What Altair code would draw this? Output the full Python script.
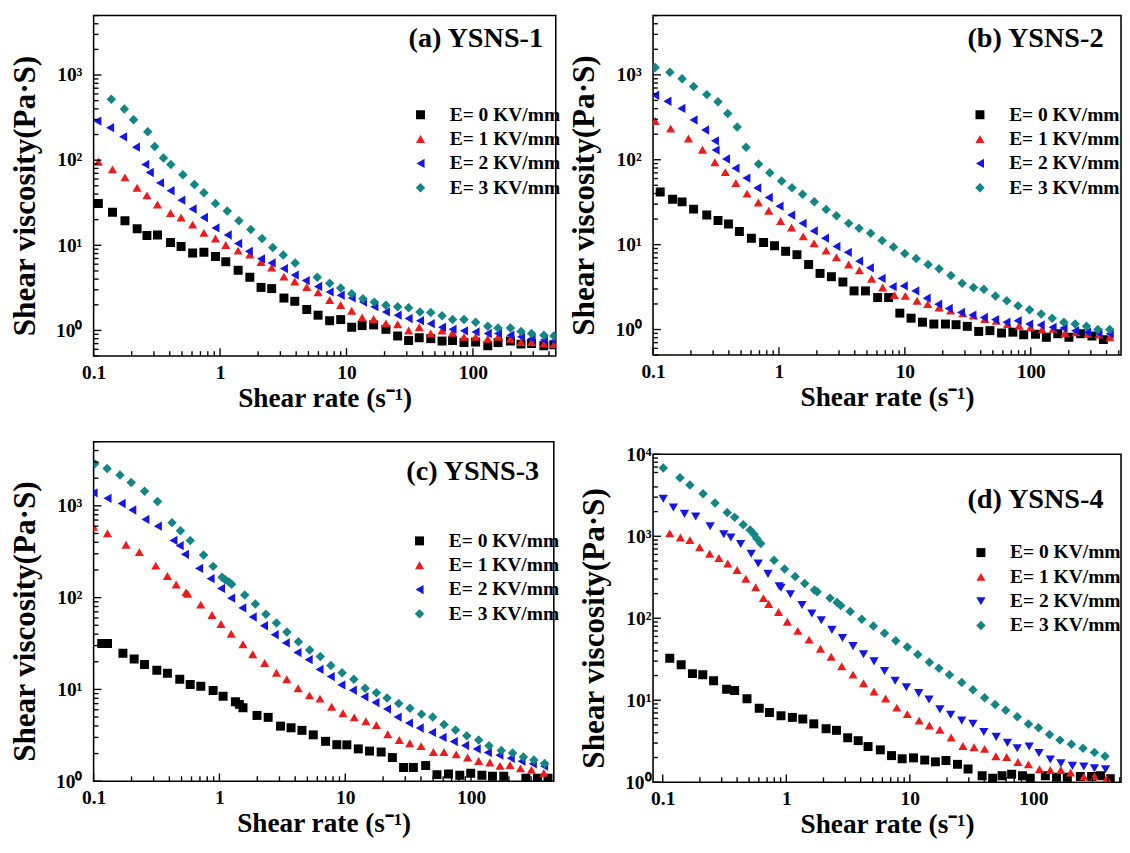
import altair as alt
import pandas as pd

FONT = "Liberation Serif"
SERIES = ["E= 0 KV/mm", "E= 1 KV/mm", "E= 2 KV/mm", "E= 3 KV/mm"]
COLORS = ["#000000", "#ec1c1c", "#1515e6", "#128585"]
SIZES = [85, 95, 95, 90]

# ---------------- panel (a) YSNS-1 ----------------
A_X0 = [0.109, 0.141, 0.177, 0.221, 0.264, 0.32, 0.406, 0.492, 0.607, 0.745, 0.92, 1.11, 1.39, 1.72, 2.11,
        2.56, 3.2, 3.9, 4.85, 5.96, 7.36, 9.0, 11.0, 13.3, 16.4, 20.5, 25.4, 31, 37.6, 46.4, 57, 69, 85, 105,
        131, 158, 198, 240, 291, 364, 437]
A_Y0 = [31.0, 24.4, 19.4, 15.6, 13.0, 13.2, 10.8, 9.7, 8.1, 8.3, 7.4, 6.4, 5.1, 4.2, 3.2, 3.1, 2.4, 2.2, 1.76,
        1.51, 1.30, 1.34, 1.09, 1.14, 1.16, 1.03, 0.86, 0.76, 0.82, 0.80, 0.75, 0.76, 0.72, 0.73, 0.66, 0.72,
        0.75, 0.69, 0.70, 0.66, 0.68]
A_X1 = A_X0
A_Y1 = [95.7, 78, 62.7, 47.3, 38.6, 30.2, 24.0, 21.2, 17.5, 14.0, 12.0, 10.1, 8.65, 7.8, 6.35, 5.47, 4.28, 3.75,
        3.23, 2.80, 2.27, 1.99, 1.70, 1.42, 1.36, 1.21, 1.18, 1.0, 1.09, 0.92, 1.0, 0.94, 0.84, 0.84, 0.80,
        0.84, 0.80, 0.73, 0.73, 0.70, 0.69]
A_X2 = [0.107, 0.135, 0.171, 0.216, 0.256, 0.278, 0.335, 0.406, 0.494, 0.607, 0.745, 0.92, 1.15, 1.39, 1.69,
        2.11, 2.56, 3.2, 3.9, 4.76, 5.96, 7.36, 9.0, 11.0, 13.5, 16.6, 20.5, 25.4, 31, 38.1, 46.4, 57, 69, 85,
        105, 131, 158, 198, 240, 291, 364, 437]
A_Y2 = [288, 241, 188, 142, 89, 71.6, 54, 43.7, 33.9, 26.7, 21.2, 16.0, 13.2, 10.5, 8.49, 6.94, 6.19, 5.33,
        4.47, 3.85, 3.28, 2.83, 2.59, 2.41, 2.15, 1.9, 1.65, 1.51, 1.38, 1.30, 1.2, 1.09, 1.03, 0.99, 0.96,
        0.92, 0.92, 0.88, 0.84, 0.80, 0.77, 0.75]
A_X3 = [0.138, 0.175, 0.207, 0.268, 0.304, 0.357, 0.408, 0.508, 0.627, 0.745, 0.92, 1.14, 1.41, 1.75, 2.15,
        2.61, 3.16, 3.93, 5.87, 7.36, 9.0, 11.0, 13.5, 16.6, 20.5, 25.4, 31, 38.1, 46.4, 57, 69, 85, 105, 131,
        158, 198, 240, 291, 364, 437]
A_Y3 = [519, 398, 298, 215, 145, 106, 89, 67.3, 51.7, 41.5, 31, 25.3, 19.4, 15.3, 12.0, 9.44, 7.71, 6.19, 4.20,
        3.59, 3.14, 2.70, 2.35, 2.15, 1.97, 1.90, 1.85, 1.65, 1.62, 1.49, 1.34, 1.34, 1.25, 1.12, 1.07, 1.07,
        0.97, 0.92, 0.88, 0.86]

# ---------------- panel (b) YSNS-2 ----------------
B_X0 = [0.114, 0.143, 0.170, 0.210, 0.267, 0.328, 0.397, 0.485, 0.604, 0.755, 0.922, 1.13, 1.39, 1.72, 2.12,
        2.61, 3.22, 3.95, 4.86, 6.08, 7.43, 9.12, 11.2, 13.8, 17.0, 21.0, 25.5, 31.3, 38.6, 47.4, 58.6, 72.1,
        87.9, 109, 133, 164, 201, 249, 306, 377]
B_Y0 = [41.8, 34.3, 31.9, 26.2, 22.3, 19.2, 17.5, 14.3, 11.9, 10.6, 9.71, 8.34, 7.62, 5.83, 4.58, 4.19, 3.63,
        2.85, 2.85, 2.38, 2.38, 1.56, 1.36, 1.22, 1.16, 1.16, 1.14, 1.09, 0.95, 0.97, 0.91, 0.93, 0.87, 0.88,
        0.81, 0.89, 0.81, 0.89, 0.84, 0.76]
B_X1 = [0.104, 0.138, 0.191, 0.247, 0.310, 0.375, 0.455, 0.558, 0.686, 0.830, 1.03, 1.26, 1.56, 1.90, 2.37,
        2.86, 3.58, 4.35, 5.45, 6.67, 8.26, 10.1, 12.5, 15.2, 18.7, 23.1, 28.9, 35.1, 43.1, 53.3, 65.4, 80.8,
        99.5, 123, 151, 187, 229, 284, 348, 425]
B_Y1 = [286, 233, 178, 131, 93.3, 71.4, 53.1, 39.9, 31.3, 25.1, 19.0, 15.9, 12.5, 10.4, 8.49, 7.10, 5.83, 4.97,
        3.97, 3.12, 2.54, 2.49, 2.18, 1.99, 1.82, 1.67, 1.55, 1.46, 1.33, 1.27, 1.16, 1.11, 1.06, 1.0, 1.02,
        0.91, 0.93, 0.89, 0.87, 0.81]
B_X2 = [0.104, 0.130, 0.168, 0.210, 0.259, 0.310, 0.314, 0.380, 0.452, 0.551, 0.673, 0.830, 1.01, 1.25, 1.54,
        1.89, 2.32, 2.86, 3.52, 4.33, 5.27, 6.53, 8.00, 9.8, 12.1, 14.9, 18.4, 22.3, 27.9, 34.4, 42.4, 52.1,
        64.1, 78.7, 97.2, 120, 149, 182, 225, 280, 345, 424]
B_Y2 = [575, 489, 402, 294, 224, 167, 130, 102, 79.4, 60.8, 46.5, 35.9, 28.4, 22.3, 17.8, 14.5, 11.9, 9.53,
        8.11, 6.38, 5.33, 4.0, 3.2, 3.26, 2.85, 2.34, 1.99, 1.77, 1.59, 1.48, 1.39, 1.31, 1.22, 1.27, 1.16,
        1.13, 1.06, 1.04, 0.97, 0.93, 0.91, 0.89]
B_X3 = [0.104, 0.136, 0.170, 0.210, 0.267, 0.328, 0.392, 0.466, 0.548, 0.689, 0.846, 1.05, 1.27, 1.54, 1.91,
        2.37, 2.86, 3.58, 4.33, 5.35, 6.6, 8.12, 9.98, 12.3, 15.3, 18.7, 23.2, 28.5, 35.1, 42.4, 52.4, 64.5,
        79.2, 97.8, 121, 148, 183, 225, 277, 341, 424]
B_Y3 = [1219, 1075, 899, 731, 585, 481, 351, 243, 140, 89.3, 70.2, 56.1, 46.9, 39.2, 31.9, 26.0, 21.9, 17.8,
        15.6, 13.6, 11.2, 9.37, 7.84, 6.85, 5.83, 5.19, 4.34, 3.50, 3.12, 2.98, 2.49, 2.18, 1.90, 1.71, 1.52,
        1.36, 1.22, 1.16, 1.09, 1.0, 1.0]

# ---------------- panel (c) YSNS-3 ----------------
C_X0 = [0.116, 0.129, 0.171, 0.210, 0.254, 0.318, 0.386, 0.484, 0.586, 0.711, 0.891, 1.07, 1.34, 1.44, 1.54,
        1.99, 2.44, 3.06, 3.71, 4.53, 5.57, 6.98, 8.57, 10.3, 12.7, 15.6, 19.3, 23.7, 29.1, 34.8, 43.6, 53.6,
        66.2, 81.4, 99.4, 122, 148, 182, 273, 337, 409]
C_Y0 = [31.6, 31.6, 24.8, 21.4, 18.7, 16.2, 15.0, 12.9, 11.3, 10.8, 9.73, 8.41, 7.32, 6.87, 6.33, 5.21, 4.96,
        3.98, 3.82, 3.58, 3.20, 2.72, 2.50, 2.49, 2.25, 2.13, 2.08, 1.81, 1.41, 1.41, 1.48, 1.18, 1.20, 1.16,
        1.22, 1.16, 1.13, 1.13, 1.08, 1.08, 1.08]
C_X1 = [0.1, 0.129, 0.181, 0.231, 0.312, 0.386, 0.453, 0.542, 0.560, 0.711, 0.874, 1.03, 1.24, 1.54, 1.84,
        2.29, 2.84, 3.43, 4.22, 5.20, 6.3, 7.8, 9.6, 11.8, 14.6, 17.7, 21.8, 26.9, 32.6, 40.1, 50.2, 60.9,
        76.3, 94, 115, 141, 170, 204, 247, 302, 379]
C_Y1 = [590, 501, 377, 313, 223, 172, 139, 114, 110, 83.9, 64.7, 51.5, 40.4, 31.1, 24.2, 19.4, 15.2, 12.9,
        10.3, 8.61, 7.94, 6.48, 5.51, 4.96, 4.50, 4.08, 3.25, 2.81, 2.59, 2.41, 2.08, 2.08, 1.96, 1.81, 1.66,
        1.60, 1.47, 1.50, 1.38, 1.33, 1.23]
C_X2 = [0.1, 0.129, 0.167, 0.203, 0.258, 0.324, 0.431, 0.483, 0.532, 0.689, 0.851, 1.03, 1.24, 1.52, 1.84,
        2.26, 2.75, 3.37, 4.17, 5.12, 6.25, 7.67, 9.31, 11.5, 14.2, 17.4, 21.5, 26.1, 32.1, 39.1, 49.0, 59.4,
        72.9, 89.7, 111, 136, 168, 207, 252, 310, 381]
C_Y2 = [1386, 1208, 1060, 900, 711, 600, 420, 368, 296, 208, 161, 126, 98.6, 77.3, 61.5, 49.4, 39.4, 32.1,
        25.2, 21.1, 16.5, 13.8, 11.2, 9.8, 8.3, 7.2, 6.1, 5.0, 4.3, 3.8, 3.4, 3.0, 2.7, 2.45, 2.25, 2.05, 1.92,
        1.78, 1.65, 1.55, 1.46]
C_X3 = [0.102, 0.128, 0.162, 0.199, 0.254, 0.322, 0.420, 0.490, 0.586, 0.748, 0.891, 1.05, 1.11, 1.19, 1.25,
        1.59, 1.93, 2.34, 2.84, 3.44, 4.25, 5.22, 6.34, 7.68, 9.44, 11.7, 14.4, 17.7, 21.5, 26.6, 32.7, 40.4,
        49.6, 61.0, 75.3, 92.5, 115, 139, 174, 214, 261, 316, 384]
C_Y3 = [2880, 2550, 2170, 1797, 1442, 1112, 656, 535, 420, 291, 219, 167, 157, 148, 140, 107, 85.3, 65.8,
        52.8, 42.1, 33.0, 26.9, 22.8, 18.2, 15.2, 12.9, 10.3, 9.2, 8.07, 7.03, 6.22, 5.38, 5.0, 4.15, 3.61,
        3.12, 2.81, 2.44, 2.16, 2.03, 1.84, 1.70, 1.56]

# ---------------- panel (d) YSNS-4 ----------------
D_X0 = [0.114, 0.141, 0.174, 0.211, 0.258, 0.329, 0.382, 0.481, 0.604, 0.731, 0.906, 1.12, 1.36, 1.67, 2.10,
        2.55, 3.14, 3.82, 4.59, 5.77, 7.11, 8.67, 10.7, 13.2, 16.1, 19.6, 24.3, 29.6, 38.5, 46.8, 55.8, 66.7,
        81.6, 94.3, 125, 154, 188, 240, 296, 349, 419]
D_Y0 = [32.6, 27.0, 21.1, 20.5, 17.3, 13.6, 13.1, 10.4, 7.96, 7.08, 6.46, 6.17, 5.90, 5.15, 4.49, 4.29, 3.48,
        3.21, 2.72, 2.48, 2.11, 1.93, 1.98, 1.86, 1.77, 1.84, 1.65, 1.45, 1.2, 1.12, 1.2, 1.25, 1.2, 1.12, 1.2,
        1.15, 1.15, 1.17, 1.17, 1.2, 1.1]
D_X1 = [0.114, 0.139, 0.166, 0.199, 0.240, 0.285, 0.336, 0.400, 0.471, 0.566, 0.654, 0.721, 0.866, 1.02, 1.24,
        1.53, 1.89, 2.31, 2.81, 3.47, 4.22, 5.13, 6.37, 7.85, 9.55, 11.9, 14.4, 17.5, 21.6, 26.9, 33.1, 40.3,
        49.7, 60.8, 75, 91.2, 112, 137, 167, 200, 256, 312, 393]
D_Y1 = [1086, 964, 897, 734, 612, 544, 466, 388, 304, 239, 176, 149, 119, 90.5, 70.2, 54.8, 42.5, 33.9, 26.0,
        20.5, 16.1, 12.8, 10.5, 8.12, 6.76, 5.64, 4.92, 4.37, 3.51, 2.77, 2.67, 2.55, 2.07, 2.03, 1.76, 1.65,
        1.44, 1.41, 1.41, 1.31, 1.17, 1.18, 1.11]
D_X2 = [0.101, 0.122, 0.150, 0.185, 0.242, 0.312, 0.356, 0.427, 0.520, 0.593, 0.711, 0.877, 0.906, 1.08, 1.34,
        1.61, 1.92, 2.34, 2.85, 3.47, 4.22, 5.13, 6.24, 7.6, 9.37, 11.8, 14.3, 17.5, 21.4, 26.3, 32.4, 39.7,
        50, 61.7, 74, 92.5, 111, 137, 167, 207, 256, 312, 384]
D_Y2 = [2872, 2248, 1875, 1743, 1327, 1057, 964, 804, 612, 466, 348, 246, 235, 196, 145, 114, 94.6, 72.1, 57.4,
        45.7, 36.4, 29.8, 22.7, 17.3, 14.4, 12.2, 10.2, 7.75, 6.64, 5.64, 5.15, 4.10, 3.57, 3.03, 2.60, 2.72,
        2.27, 1.89, 1.70, 1.58, 1.55, 1.48, 1.44]
D_X3 = [0.101, 0.138, 0.166, 0.212, 0.265, 0.333, 0.382, 0.448, 0.510, 0.548, 0.577, 0.621, 0.796, 0.969, 1.18,
        1.41, 1.69, 1.78, 2.26, 2.58, 2.76, 3.29, 4.08, 5.07, 6.24, 7.69, 9.55, 11.6, 14.4, 17.2, 20.9, 26.3,
        32.4, 40.3, 49, 59.7, 74, 91.2, 110, 135, 164, 203, 252, 312, 380]
D_Y3 = [6820, 5190, 4215, 3297, 2555, 1945, 1711, 1387, 1189, 1057, 938, 818, 510, 399, 324, 265, 221, 211,
        176, 156, 143, 121, 97.3, 80.4, 65.8, 53.3, 44.5, 36.1, 29.0, 24.6, 20.5, 16.5, 13.4, 10.7, 8.89,
        7.54, 6.28, 5.14, 4.61, 3.81, 3.26, 2.90, 2.60, 2.31, 2.07]

# ---------------- tick values ----------------
X_MAJOR = [0.1, 1, 10, 100]
X_MINOR = [0.2, 0.3, 0.4, 0.5, 0.6, 0.7, 0.8, 0.9, 2, 3, 4, 5, 6, 7, 8, 9,
           20, 30, 40, 50, 60, 70, 80, 90, 200, 300, 400, 500]
Y_MAJOR_4 = [1, 10, 100, 1000]
Y_MAJOR_5 = [1, 10, 100, 1000, 10000]
Y_MINOR_AB = [0.5, 0.6, 0.7, 0.8, 0.9, 2, 3, 4, 5, 6, 7, 8, 9, 20, 30, 40, 50, 60, 70, 80, 90,
              200, 300, 400, 500, 600, 700, 800, 900, 2000, 3000, 4000, 5000]
Y_MINOR_C = [2, 3, 4, 5, 6, 7, 8, 9, 20, 30, 40, 50, 60, 70, 80, 90,
             200, 300, 400, 500, 600, 700, 800, 900, 2000, 3000, 4000, 5000]
Y_MINOR_D = Y_MINOR_C[:-1] + [6000, 7000, 8000, 9000]

SUP = "['\u2070','\u00b9','\u00b2','\u00b3','\u2074']"
Y_LABEL_EXPR = "'10' + " + SUP + "[round(log(datum.value)/LN10)]"


def panel(xs, ys, shapes, xdom, ydom, ymaj, ymin, w, h, title, tdx, tdy, lx, ly, ylp):
    rows = []
    for s, xl, yl in zip(SERIES, xs, ys):
        rows += [{"rate": a, "visc": b, "s": s} for a, b in zip(xl, yl)]
    df = pd.DataFrame(rows)
    xsc = alt.Scale(type="log", domain=xdom, nice=False)
    ysc = alt.Scale(type="log", domain=ydom, nice=False)
    xax = alt.Axis(values=X_MAJOR, format="~g", title="Shear rate (s\u207b\u00b9)",
                   labelPadding=7, titlePadding=3, labelFlush=False)
    yax = alt.Axis(values=ymaj, labelExpr=Y_LABEL_EXPR, title="Shear viscosity(Pa\u00b7S)",
                   labelPadding=ylp, titlePadding=15, titleY=h / 2 + 10, labelFlush=False,
                   titleFontSize=32)
    leg = alt.Legend(title=None, orient="none", legendX=lx, legendY=ly, labelFont=FONT, labelFontSize=20,
                     labelFontWeight="bold", labelColor="black", symbolSize=60, symbolStrokeWidth=0,
                     symbolOpacity=1, rowPadding=5, labelOffset=20, padding=0)
    pts = alt.Chart(df).mark_point(filled=True, opacity=1, clip=True).encode(
        x=alt.X("rate:Q", scale=xsc, axis=xax),
        y=alt.Y("visc:Q", scale=ysc, axis=yax),
        color=alt.Color("s:N", scale=alt.Scale(domain=SERIES, range=COLORS), legend=leg),
        shape=alt.Shape("s:N", scale=alt.Scale(domain=SERIES, range=shapes), legend=leg),
        size=alt.Size("s:N", scale=alt.Scale(domain=SERIES, range=SIZES), legend=None),
    )

    xmax = xdom[1]

    def xt(vals, L):
        vals = [v for v in vals if v < xmax]
        return alt.Chart(pd.DataFrame({"rate": vals})).mark_rule(color="black", strokeWidth=1.4).encode(
            x=alt.X("rate:Q", scale=xsc, axis=xax), y=alt.value(h), y2=alt.value(h - L))

    def yt(vals, L):
        return alt.Chart(pd.DataFrame({"visc": vals})).mark_rule(color="black", strokeWidth=1.4).encode(
            y=alt.Y("visc:Q", scale=ysc, axis=yax), x=alt.value(0), x2=alt.value(L))

    lab = alt.Chart(pd.DataFrame({"t": [title]})).mark_text(
        align="right", baseline="alphabetic", font=FONT, fontSize=29, fontWeight="bold", color="black"
    ).encode(text="t:N", x=alt.value(w + tdx), y=alt.value(tdy))

    return alt.layer(pts, xt(X_MAJOR, 8), xt(X_MINOR, 5), yt(ymaj, 8), yt(ymin, 5), lab).properties(
        width=w, height=h)


SH_L = ["square", "triangle-up", "triangle-left", "diamond"]
SH_D = ["square", "triangle-up", "triangle-down", "diamond"]

pa = panel([A_X0, A_X1, A_X2, A_X3], [A_Y0, A_Y1, A_Y2, A_Y3], SH_L, [0.1, 452], [0.5, 5000], Y_MAJOR_4,
           Y_MINOR_AB, 475, 350, "(a) YSNS-1", -13, 32, 326, 92, 12)
pb = panel([B_X0, B_X1, B_X2, B_X3], [B_Y0, B_Y1, B_Y2, B_Y3], SH_L, [0.1, 521], [0.5, 5000], Y_MAJOR_4,
           Y_MINOR_AB, 481, 349, "(b) YSNS-2", -18, 32, 326, 92, 12)
pc = panel([C_X0, C_X1, C_X2, C_X3], [C_Y0, C_Y1, C_Y2, C_Y3], SH_L, [0.1, 455], [1, 5000], Y_MAJOR_4,
           Y_MINOR_C, 473, 349, "(c) YSNS-3", -15, 39, 325, 92, 12)
pd_ = panel([D_X0, D_X1, D_X2, D_X3], [D_Y0, D_Y1, D_Y2, D_Y3], SH_D, [0.0835, 512], [1, 10000], Y_MAJOR_5,
            Y_MINOR_D, 481, 337, "(d) YSNS-4", -18, 55, 327, 91, 2)

RES = dict(x="independent", y="independent", color="independent", shape="independent", size="independent")

col1 = alt.concat(pa, pc, columns=1, spacing=27, align="none").resolve_scale(**RES)
col2 = alt.concat(pb, pd_, columns=1, spacing=32, align="none").resolve_scale(**RES)

chart = alt.hconcat(col1, col2, spacing=6).resolve_scale(**RES).properties(
    padding={"left": 0, "top": -6, "right": 0, "bottom": 0}
).configure_view(stroke="black", strokeWidth=1.6).configure_axis(
    labelFont=FONT, titleFont=FONT, labelFontWeight="bold", titleFontWeight="bold", labelFontSize=20,
    titleFontSize=28, labelColor="black", titleColor="black", grid=False, ticks=False, domain=False,
    labelOverlap=False
).configure_legend(symbolStrokeWidth=0)

chart.save("out.html", embed_options={"renderer": "svg", "actions": False})
